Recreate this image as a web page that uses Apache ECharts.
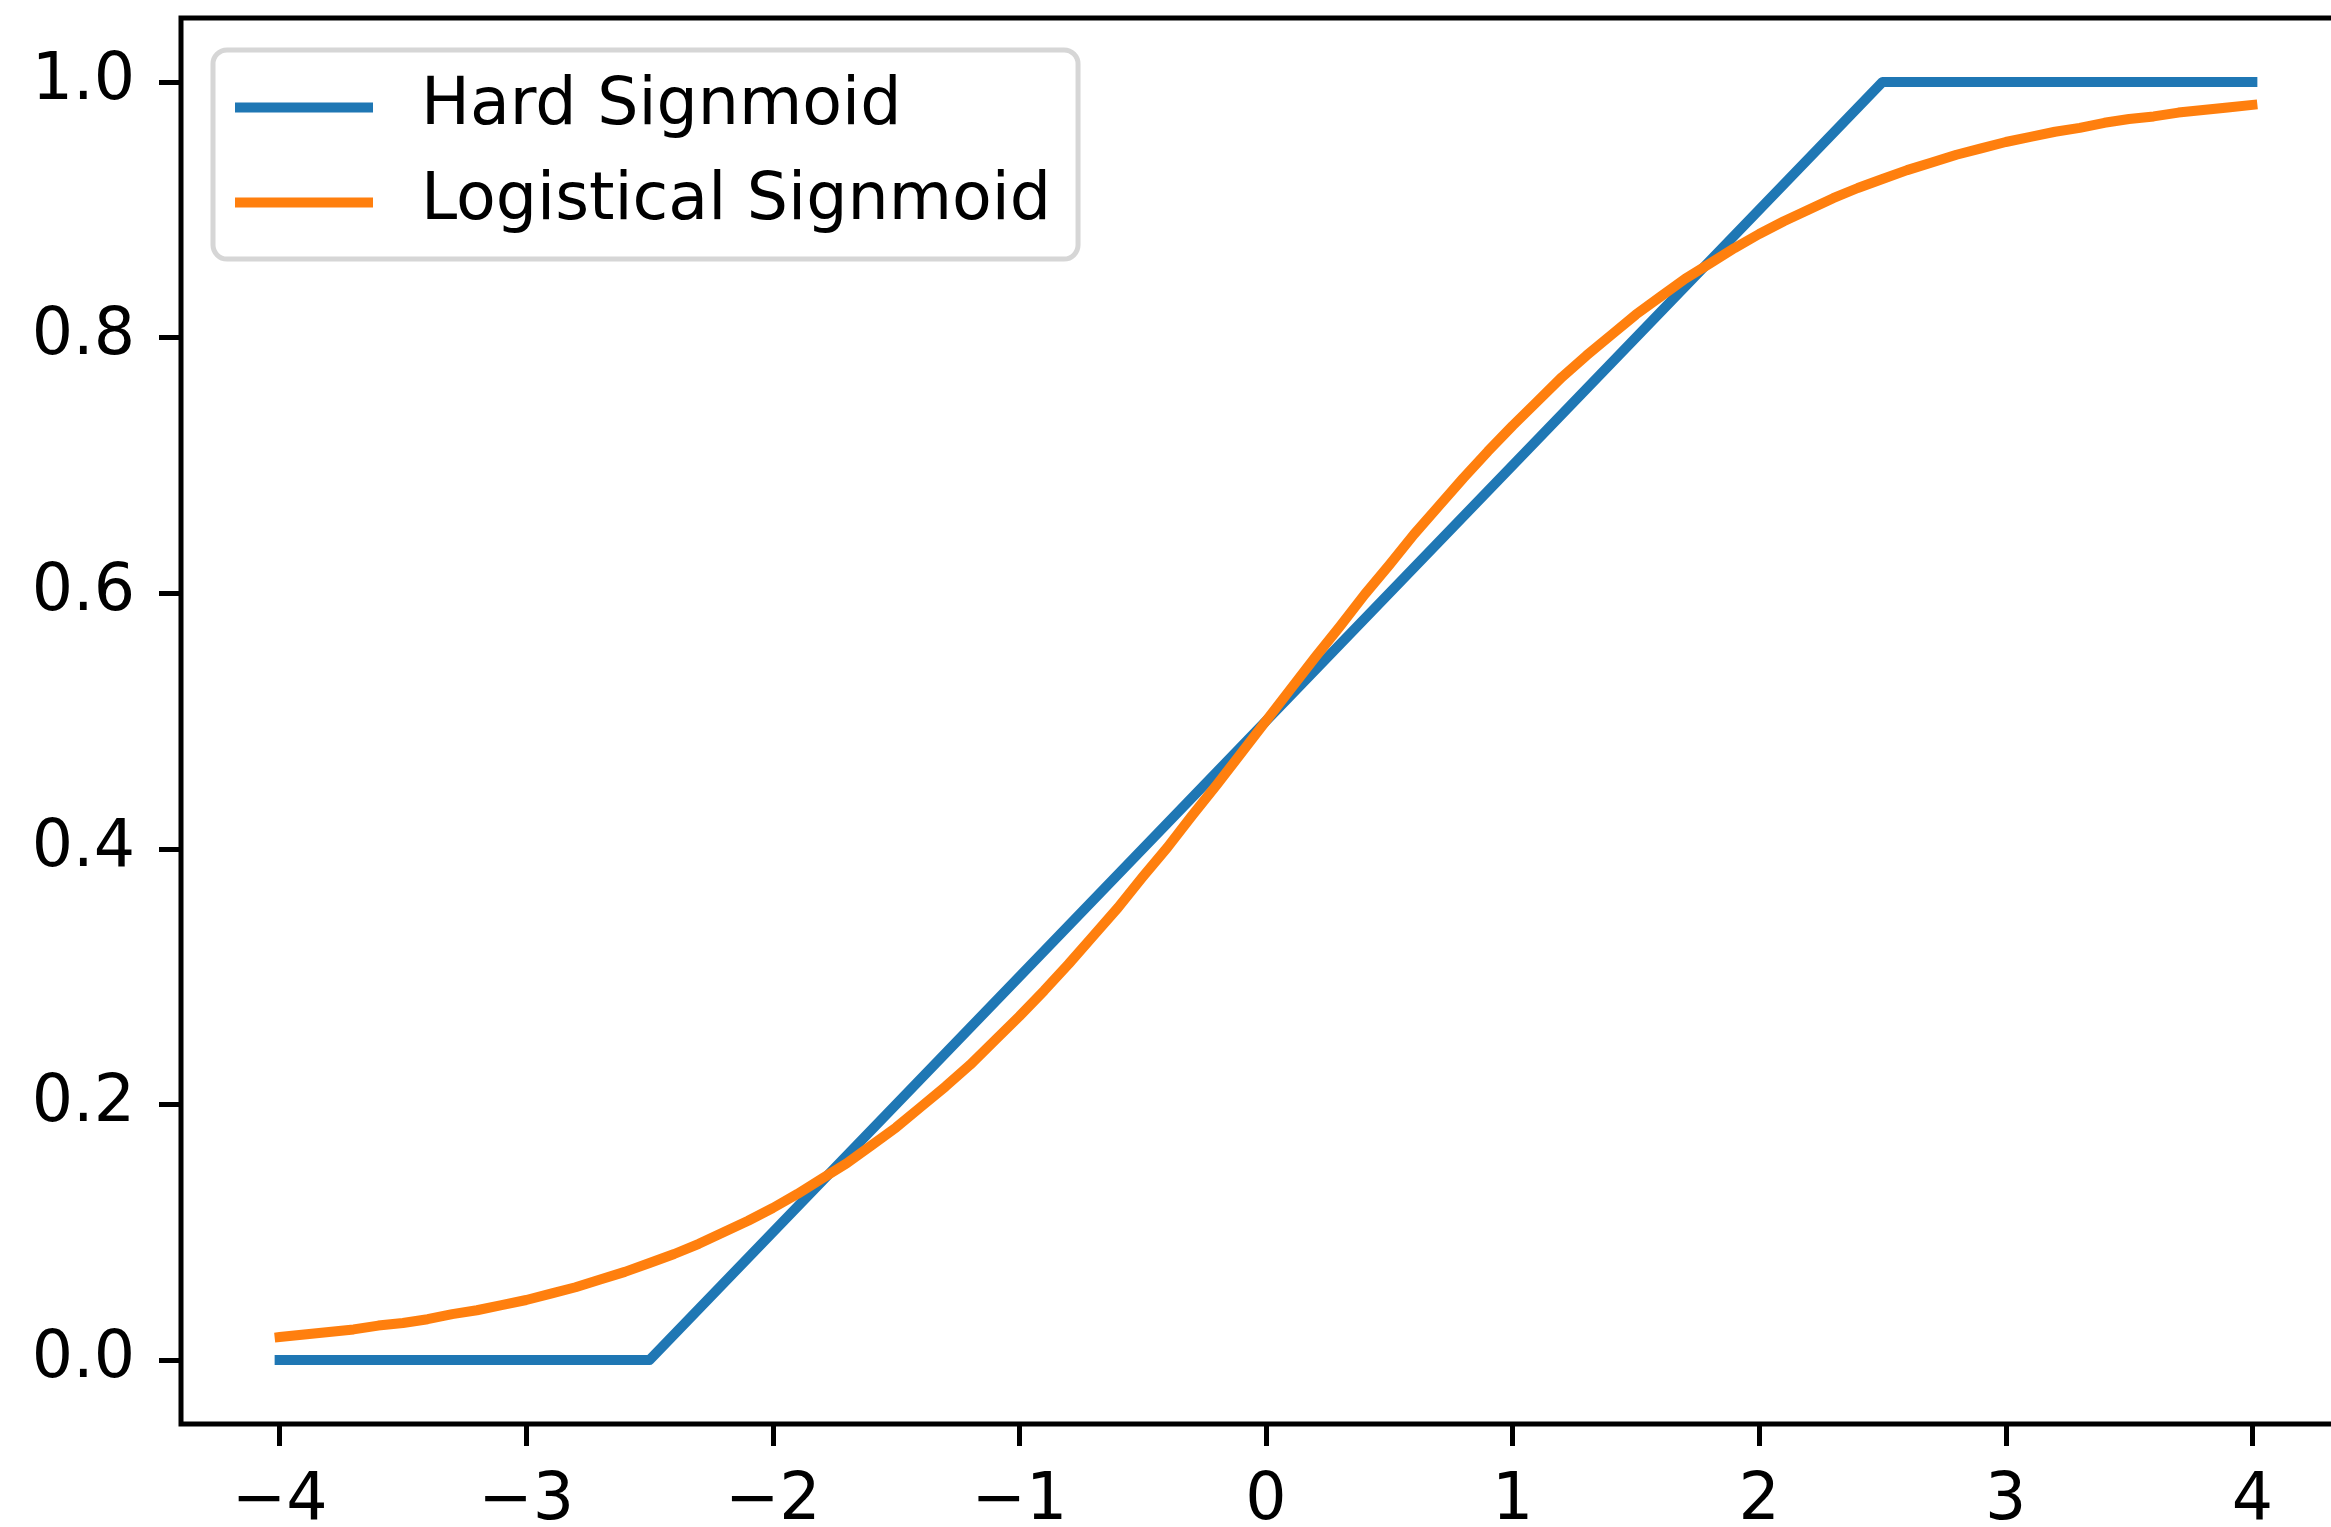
<!DOCTYPE html>
<html>
<head>
<meta charset="utf-8">
<script src="https://cdn.jsdelivr.net/npm/echarts@6/dist/echarts.min.js"></script>
<style>
  html, body { margin: 0; padding: 0; background: #fff; }
  #chart { width: 2331px; height: 1527px; }
</style>
</head>
<body>
<div id="chart"></div>
<script>
// Hard sigmoid: flat at 0, linear ramp, flat at 1
const hardX = [-4, -2.5, 2.5, 4];
const hardY = [0, 0, 1, 1];

// Logistic sigmoid sampled every 0.1 from -4 to 4
const logX = [-4.0, -3.9, -3.8, -3.7, -3.6, -3.5, -3.4, -3.3, -3.2, -3.1,
              -3.0, -2.9, -2.8, -2.7, -2.6, -2.5, -2.4, -2.3, -2.2, -2.1,
              -2.0, -1.9, -1.8, -1.7, -1.6, -1.5, -1.4, -1.3, -1.2, -1.1,
              -1.0, -0.9, -0.8, -0.7, -0.6, -0.5, -0.4, -0.3, -0.2, -0.1,
              0.0, 0.1, 0.2, 0.3, 0.4, 0.5, 0.6, 0.7, 0.8, 0.9,
              1.0, 1.1, 1.2, 1.3, 1.4, 1.5, 1.6, 1.7, 1.8, 1.9,
              2.0, 2.1, 2.2, 2.3, 2.4, 2.5, 2.6, 2.7, 2.8, 2.9,
              3.0, 3.1, 3.2, 3.3, 3.4, 3.5, 3.6, 3.7, 3.8, 3.9, 4.0];
const logY = [0.018, 0.020, 0.022, 0.024, 0.027, 0.029, 0.032, 0.036, 0.039, 0.043,
              0.047, 0.052, 0.057, 0.063, 0.069, 0.076, 0.083, 0.091, 0.100, 0.109,
              0.119, 0.130, 0.142, 0.154, 0.168, 0.182, 0.198, 0.214, 0.231, 0.250,
              0.269, 0.289, 0.310, 0.332, 0.354, 0.378, 0.401, 0.426, 0.450, 0.475,
              0.500, 0.525, 0.550, 0.574, 0.599, 0.622, 0.646, 0.668, 0.690, 0.711,
              0.731, 0.750, 0.769, 0.786, 0.802, 0.818, 0.832, 0.846, 0.858, 0.870,
              0.881, 0.891, 0.900, 0.909, 0.917, 0.924, 0.931, 0.937, 0.943, 0.948,
              0.953, 0.957, 0.961, 0.964, 0.968, 0.971, 0.973, 0.976, 0.978, 0.980, 0.982];

const xTicks = [-4, -3, -2, -1, 0, 1, 2, 3, 4];
const yTicks = [0, 0.2, 0.4, 0.6, 0.8, 1.0];

const seriesNames = ['Hard Signmoid', 'Logistical Signmoid'];

const pairs = (xs, ys) => xs.map((x, i) => [x, ys[i]]);

const FONT = 'DejaVu Sans';
const FS = 65;

const chart = echarts.init(document.getElementById('chart'), null, { renderer: 'canvas' });
chart.setOption({
  animation: false,
  backgroundColor: '#ffffff',
  grid: {
    left: 181, top: 18, width: 2170, height: 1406,
    outerBoundsMode: 'none',
    containLabel: false,
    show: true, borderColor: '#000', borderWidth: 5, backgroundColor: '#fff'
  },
  legend: {
    orient: 'vertical',
    left: 213, top: 50,
    padding: [25, 27, 24, 22],
    backgroundColor: '#fff',
    borderColor: '#d6d6d6',
    borderWidth: 5,
    borderRadius: 14,
    itemWidth: 138,
    itemHeight: 10,
    itemGap: 30,
    icon: 'rect',
    textStyle: { fontFamily: FONT, fontSize: FS, color: '#000', padding: [0, 0, 0, 43] },
    data: seriesNames
  },
  xAxis: {
    type: 'value', min: -4.4, max: 4.4,
    axisLine: { show: false, onZero: false },
    splitLine: { show: false },
    axisTick: { show: true, length: 22, lineStyle: { color: '#000', width: 5 }, customValues: xTicks },
    axisLabel: {
      customValues: xTicks, margin: 46,
      fontFamily: FONT, fontSize: FS, color: '#000',
      formatter: v => (v < 0 ? '\u2212' + Math.abs(v) : String(v))
    }
  },
  yAxis: {
    type: 'value', min: -0.05, max: 1.05,
    axisLine: { show: false, onZero: false },
    splitLine: { show: false },
    axisTick: { show: true, length: 22, lineStyle: { color: '#000', width: 5 }, customValues: yTicks },
    axisLabel: {
      customValues: yTicks, margin: 46,
      fontFamily: FONT, fontSize: FS, color: '#000',
      formatter: v => v.toFixed(1)
    }
  },
  series: [
    {
      name: seriesNames[0], type: 'line', data: pairs(hardX, hardY),
      showSymbol: false, symbol: 'none',
      color: '#1f77b4',
      lineStyle: { width: 10, color: '#1f77b4', cap: 'square', join: 'round' }
    },
    {
      name: seriesNames[1], type: 'line', data: pairs(logX, logY),
      showSymbol: false, symbol: 'none',
      color: '#ff7f0e',
      lineStyle: { width: 10, color: '#ff7f0e', cap: 'square', join: 'round' }
    }
  ]
});
</script>
</body>
</html>
